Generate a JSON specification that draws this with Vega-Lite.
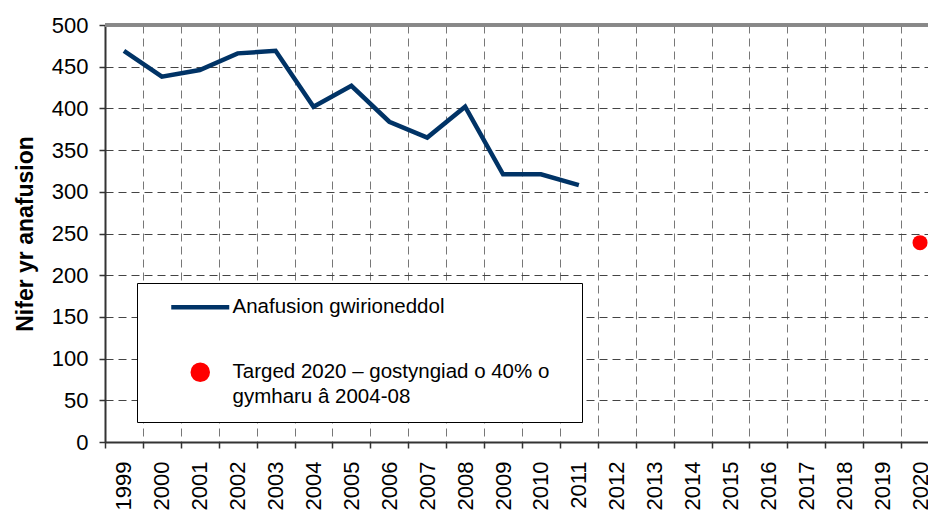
{
  "$schema": "https://vega.github.io/schema/vega-lite/v6.json",
  "autosize": {"type": "none"},
  "padding": {"left": 105, "top": 25, "right": 0, "bottom": 70},
  "width": 823,
  "height": 417,
  "background": "white",
  "config": {
    "view": {"stroke": null},
    "font": "Liberation Sans"
  },
  "datasets": {
    "actual": [
      {"year": "1999", "value": 469, "series": "Anafusion gwirioneddol"},
      {"year": "2000", "value": 438, "series": "Anafusion gwirioneddol"},
      {"year": "2001", "value": 446, "series": "Anafusion gwirioneddol"},
      {"year": "2002", "value": 466, "series": "Anafusion gwirioneddol"},
      {"year": "2003", "value": 469, "series": "Anafusion gwirioneddol"},
      {"year": "2004", "value": 402, "series": "Anafusion gwirioneddol"},
      {"year": "2005", "value": 427, "series": "Anafusion gwirioneddol"},
      {"year": "2006", "value": 384, "series": "Anafusion gwirioneddol"},
      {"year": "2007", "value": 365, "series": "Anafusion gwirioneddol"},
      {"year": "2008", "value": 402, "series": "Anafusion gwirioneddol"},
      {"year": "2009", "value": 321, "series": "Anafusion gwirioneddol"},
      {"year": "2010", "value": 321, "series": "Anafusion gwirioneddol"},
      {"year": "2011", "value": 308, "series": "Anafusion gwirioneddol"}
    ],
    "target": [
      {"year": "2020", "value": 239, "series": "Targed 2020 – gostyngiad o 40% o|gymharu â 2004-08"}
    ]
  },
  "encoding": {
    "x": {
      "field": "year",
      "type": "ordinal",
      "scale": {
        "type": "band",
        "domain": ["1999","2000","2001","2002","2003","2004","2005","2006","2007","2008","2009","2010","2011","2012","2013","2014","2015","2016","2017","2018","2019","2020"],
        "range": [0, 834],
        "paddingInner": 0,
        "paddingOuter": 0
      },
      "axis": {
        "title": null,
        "labelAngle": -90,
        "labelFontSize": 22,
        "labelColor": "black",
        "labelPadding": 13,
        "tickBand": "extent",
        "ticks": true,
        "tickSize": 6,
        "tickColor": "#333",
        "tickWidth": 1.5,
        "domainColor": "#333",
        "domainWidth": 2,
        "grid": true,
        "gridColor": "#777",
        "gridWidth": 1,
        "gridDash": [8, 5]
      }
    },
    "y": {
      "field": "value",
      "type": "quantitative",
      "scale": {"domain": [0, 500], "nice": false},
      "axis": {
        "title": "Nifer yr anafusion",
        "titleFontSize": 23,
        "titleFontWeight": "bold",
        "titleColor": "black",
        "titlePadding": 14,
        "values": [0, 50, 100, 150, 200, 250, 300, 350, 400, 450, 500],
        "labelFontSize": 22,
        "labelColor": "black",
        "labelPadding": 11,
        "tickSize": 6,
        "tickColor": "#333",
        "tickWidth": 1.5,
        "domainColor": "#333",
        "domainWidth": 2,
        "grid": true,
        "gridColor": "#444",
        "gridWidth": 1,
        "gridDash": [8, 5]
      }
    }
  },
  "layer": [
    {
      "data": {"name": "actual"},
      "mark": {"type": "rule", "color": "#888", "strokeWidth": 2.5},
      "encoding": {"y": {"datum": 500, "type": "quantitative"}, "x": null}
    },
    {
      "data": {"name": "actual"},
      "mark": {"type": "line", "strokeWidth": 4.5, "strokeJoin": "miter"},
      "encoding": {
        "color": {
          "field": "series",
          "type": "nominal",
          "scale": {
            "domain": ["Anafusion gwirioneddol", "Targed 2020 – gostyngiad o 40% o|gymharu â 2004-08"],
            "range": ["#003366", "#ff0000"]
          },
          "legend": {
            "title": null,
            "orient": "none",
            "legendX": 32,
            "legendY": 258,
            "direction": "vertical",
            "columns": 1,
            "padding": 14,
            "rowPadding": 37,
            "fillColor": "white",
            "strokeColor": "black",
            "labelFontSize": 20.5,
            "labelColor": "black",
            "labelLimit": 600,
            "symbolOffset": 39,
            "labelOffset": 22,
            "symbolStrokeWidth": 4.5,
            "symbolSize": 3364,
            "labelExpr": "split(datum.label, '|')",
            "encode": {
              "labels": {
                "update": {"lineHeight": {"value": 25}}
              },
              "symbols": {
                "update": {
                  "shape": {"signal": "datum.value === 'Anafusion gwirioneddol' ? 'M-1,0L1,0M12.35,0' : 'circle'"},
                  "size": {"signal": "datum.value === 'Anafusion gwirioneddol' ? 3364 : 225"},
                  "stroke": {"signal": "datum.value === 'Anafusion gwirioneddol' ? '#003366' : 'transparent'"},
                  "fill": {"signal": "datum.value === 'Anafusion gwirioneddol' ? 'transparent' : '#ff0000'"},
                  "opacity": {"value": 1}
                }
              }
            }
          }
        }
      }
    },
    {
      "data": {"name": "target"},
      "mark": {"type": "point", "shape": "circle", "filled": true, "size": 225, "opacity": 1},
      "encoding": {
        "color": {"field": "series", "type": "nominal"}
      }
    }
  ]
}
